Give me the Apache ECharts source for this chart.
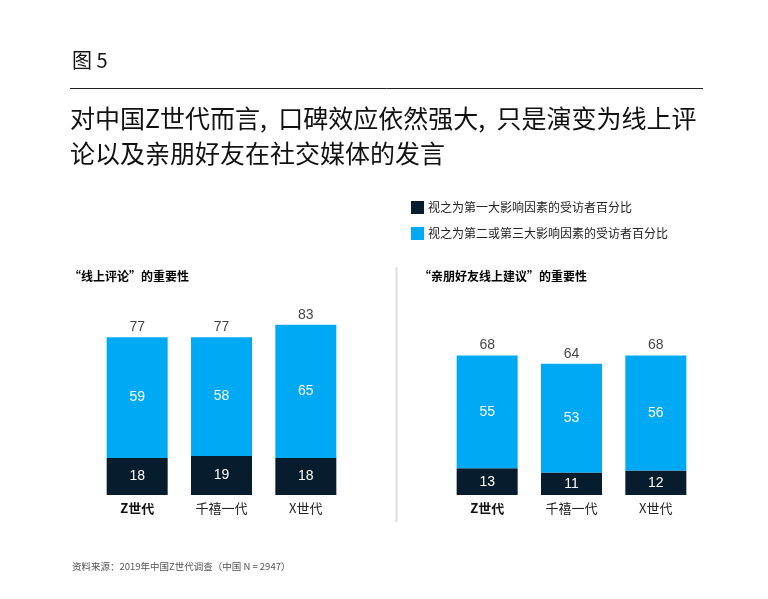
<!DOCTYPE html>
<html>
<head>
<meta charset="utf-8">
<script src="https://cdn.jsdelivr.net/npm/echarts@6/dist/echarts.min.js"></script>
<style>
html,body{margin:0;padding:0;background:#fff;}
#main{width:768px;height:599px;}
</style>
</head>
<body>
<div id="main"></div>
<script>
// Data
var categories = ['Z世代', '千禧一代', 'X世代'];
var seriesNames = ['视之为第一大影响因素的受访者百分比', '视之为第二或第三大影响因素的受访者百分比'];
var onlineFirst = [18, 19, 18];
var onlineSecondThird = [59, 58, 65];
var onlineTotal = [77, 77, 83];
var friendsFirst = [13, 11, 12];
var friendsSecondThird = [55, 53, 56];
var friendsTotal = [68, 64, 68];

var DARK = '#071c2c';
var LIGHT = '#00a9f4';
var FONT = '"Noto Sans CJK SC", "Noto Sans", sans-serif';
var NUMFONT = 'Arial, "Liberation Sans", sans-serif';

var chart = echarts.init(document.getElementById('main'));

function catAxis(idx) {
  return {
    type: 'category', gridIndex: idx, data: categories,
    axisLine: {show: false}, axisTick: {show: false},
    axisLabel: {
      margin: 7, fontSize: 13, color: '#222', fontFamily: FONT,
      formatter: function (v) { return v === 'Z世代' ? '{b|' + v + '}' : v; },
      rich: {b: {fontWeight: 'bold', fontSize: 13, color: '#111', fontFamily: FONT}}
    }
  };
}
function valAxis(idx) {
  return {type: 'value', gridIndex: idx, min: 0, max: 100, show: false, splitLine: {show: false}};
}
function barSeries(name, data, idx, color, stack) {
  return {
    name: name, type: 'bar', stack: stack, xAxisIndex: idx, yAxisIndex: idx,
    data: data, barWidth: 61, itemStyle: {color: color},
    label: {show: true, position: 'inside', color: '#fff', fontSize: 14, fontFamily: NUMFONT},
    emphasis: {disabled: true}
  };
}
function totalSeries(data, idx) {
  return {
    type: 'scatter', xAxisIndex: idx, yAxisIndex: idx, data: data, symbolSize: 0,
    label: {show: true, position: 'top', distance: 3, color: '#111', fontSize: 14, fontFamily: NUMFONT},
    emphasis: {disabled: true}, silent: true
  };
}

var option = {
  backgroundColor: '#fff',
  animation: false,
  title: [
    {text: '图 5', left: 67, top: 45, textStyle: {fontSize: 20, fontWeight: 'normal', color: '#111', fontFamily: FONT}},
    {text: '对中国Z世代而言,  口碑效应依然强大,  只是演变为线上评\n论以及亲朋好友在社交媒体的发言', left: 65, top: 96,
      textStyle: {fontSize: 25, fontWeight: 'normal', color: '#111', fontFamily: FONT, lineHeight: 35}},
    {text: '“线上评论”的重要性', left: 64, top: 265, textStyle: {fontSize: 12, fontWeight: 'bold', color: '#000', fontFamily: FONT}},
    {text: '“亲朋好友线上建议”的重要性', left: 414, top: 265, textStyle: {fontSize: 12, fontWeight: 'bold', color: '#000', fontFamily: FONT}},
    {text: '资料来源：2019年中国Z世代调查（中国 N = 2947）', left: 67, top: 557, textStyle: {fontSize: 9.5, fontWeight: 'normal', color: '#555', fontFamily: FONT}}
  ],
  legend: {
    data: seriesNames, orient: 'vertical', left: 411, top: 201, padding: 0, itemWidth: 13, itemHeight: 13, itemGap: 13,
    icon: 'rect', selectedMode: false,
    textStyle: {fontSize: 12, color: '#222', fontFamily: FONT, padding: [0, 0, 0, -1]}
  },
  graphic: [
    {type: 'line', shape: {x1: 70, y1: 88.5, x2: 703, y2: 88.5}, style: {stroke: '#222', lineWidth: 1}},
    {type: 'line', shape: {x1: 396.5, y1: 267, x2: 396.5, y2: 522}, style: {stroke: '#ddd', lineWidth: 2}}
  ],
  grid: [
    {left: 95, width: 253, top: 290, height: 205},
    {left: 445, width: 253, top: 290, height: 205}
  ],
  xAxis: [catAxis(0), catAxis(1)],
  yAxis: [valAxis(0), valAxis(1)],
  series: [
    barSeries(seriesNames[0], onlineFirst, 0, DARK, 'a'),
    barSeries(seriesNames[1], onlineSecondThird, 0, LIGHT, 'a'),
    totalSeries(onlineTotal, 0),
    barSeries(seriesNames[0], friendsFirst, 1, DARK, 'b'),
    barSeries(seriesNames[1], friendsSecondThird, 1, LIGHT, 'b'),
    totalSeries(friendsTotal, 1)
  ]
};
chart.setOption(option);
</script>
</body>
</html>
